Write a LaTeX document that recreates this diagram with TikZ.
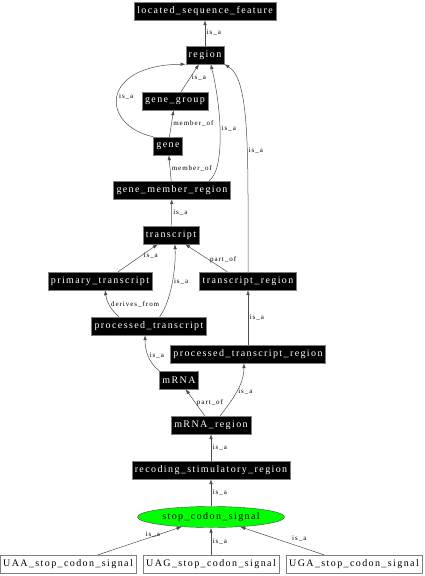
\documentclass[tikz,border=0pt]{standalone}
\usepackage{fontspec}
\setmainfont[LetterSpace=14]{Liberation Serif}
\usepackage{tikz}
\usetikzlibrary{arrows.meta,shapes.geometric}
\definecolor{signalgreen}{RGB}{0,255,0}
\tikzstyle{term} = [draw=gray, fill=black, text=white, rectangle,
    inner xsep=3pt, inner ysep=0pt, minimum height=18pt,
    font=\fontsize{10}{12}\selectfont]
\tikzstyle{leaf} = [draw=gray, fill=white, text=black, rectangle,
    inner xsep=3pt, inner ysep=0pt, minimum height=18pt, minimum width=133pt,
    font=\fontsize{10}{12}\selectfont]
\tikzstyle{focus} = [draw=black!70, fill=signalgreen, ellipse,
    minimum width=147pt, minimum height=21pt, inner sep=0pt,
    font=\fontsize{10}{12}\selectfont]
\tikzstyle{link} = [draw=black!70, line width=0.5pt, -{Latex[length=5pt,width=3.5pt]}]
\tikzstyle{lbl} = [font=\fontsize{7}{8}\selectfont, inner sep=1.5pt, text=black]

\begin{document}
\begin{tikzpicture}[x=1pt, y=-1pt]
    \useasboundingbox (0,0) rectangle (424,576);
    \node [term] (lsf) at (205,11) {located\_sequence\_feature};
    \node [term] (region) at (205,55) {region};
    \node [term] (genegroup) at (175,101) {gene\_group};
    \node [term] (gene) at (168,146) {gene};
    \node [term] (gmr) at (172,190) {gene\_member\_region};
    \node [term] (transcript) at (171,235) {transcript};
    \node [term] (primary) at (100,281) {primary\_transcript};
    \node [term] (tregion) at (248,281) {transcript\_region};
    \node [term] (processed) at (149,326) {processed\_transcript};
    \node [term] (ptregion) at (248,354) {processed\_transcript\_region};
    \node [term] (mrna) at (179,380) {mRNA};
    \node [term] (mregion) at (211,425) {mRNA\_region};
    \node [term] (recoding) at (211,470) {recoding\_stimulatory\_region};
    \node [focus] (stop) at (211,517) {stop\_codon\_signal};
    \node [leaf] (uaa) at (68,564) {UAA\_stop\_codon\_signal};
    \node [leaf] (uag) at (211,564) {UAG\_stop\_codon\_signal};
    \node [leaf] (uga) at (354,564) {UGA\_stop\_codon\_signal};

    \draw [link] (region) -- node [lbl, right] {is\_a} (lsf);
    \draw [link] (genegroup) -- node [lbl, right] {is\_a} (region);
    \draw [link] (gene.north west) .. controls (100,125) and (100,65) .. node [lbl, right] {is\_a} (region.south west);
    \draw [link] (gene) -- node [lbl, right] {member\_of} (genegroup);
    \draw [link] (gmr.14) .. controls (225,170) and (222,110) .. node [lbl, right, pos=0.55] {is\_a} (region.-58);
    \draw [link] (gmr) -- node [lbl, right] {member\_of} (gene);
    \draw [link] (tregion.north) .. controls (248,150) and (250,80) .. node [lbl, right, pos=0.4] {is\_a} (region.south east);
    \draw [link] (transcript) -- node [lbl, right] {is\_a} (gmr);
    \draw [link] (primary.27) -- node [lbl, right, pos=0.6] {is\_a} (transcript);
    \draw [link] (tregion.156) -- node [lbl, right, pos=0.45] {part\_of} (transcript);
    \draw [link] (processed.41) .. controls (172,300) and (176,265) .. node [lbl, right] {is\_a} (transcript.-67);
    \draw [link] (processed.163) to [bend left=20] node [lbl, right] {derives\_from} (primary.-61);
    \draw [link] (ptregion) -- node [lbl, right] {is\_a} (tregion);
    \draw [link] (mrna.north west) .. controls (148,362) and (145,350) .. node [lbl, right] {is\_a} (processed.-113);
    \draw [link] (mregion.45) .. controls (232,400) and (244,385) .. node [lbl, right] {is\_a} (ptregion.-114);
    \draw [link] (mregion.124) -- node [lbl, right] {part\_of} (mrna);
    \draw [link] (recoding) -- node [lbl, right] {is\_a} (mregion);
    \draw [link] (stop) -- node [lbl, right] {is\_a} (recoding);
    \draw [link] (uaa.17) -- node [lbl, above right, pos=0.55] {is\_a} (stop);
    \draw [link] (uag) -- node [lbl, right] {is\_a} (stop);
    \draw [link] (uga.163) -- node [lbl, above right, pos=0.4] {is\_a} (stop);
\end{tikzpicture}
\end{document}
